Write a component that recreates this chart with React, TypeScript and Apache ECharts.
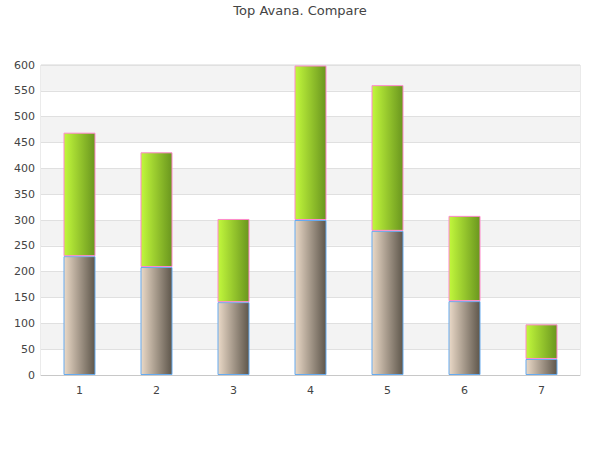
import React, { useEffect, useRef } from "react";
import * as echarts from "echarts";

const categories = ["1", "2", "3", "4", "5", "6", "7"];
const baseValues = [230, 209, 141, 300, 279, 143, 31];
const topValues = [239, 222, 161, 299, 282, 165, 67];
const titleText = "Top Avana. Compare";

export default function App() {
  const ref = useRef<HTMLDivElement>(null);
  useEffect(() => {
    const chart = echarts.init(ref.current!, null, { renderer: "svg" });
    const font = "DejaVu Sans";
    chart.setOption({
      animation: false,
      textStyle: { fontFamily: font },
      title: {
        text: titleText,
        left: "center",
        top: 0,
        padding: [4, 5],
        textStyle: { fontFamily: font, fontSize: 13, fontWeight: "normal", color: "#444" },
      },
      grid: { left: 41, right: 20, top: 65, bottom: 75, show: true, borderColor: "#d6d6d6", borderWidth: 1, backgroundColor: "transparent" },
      xAxis: {
        type: "category",
        data: categories,
        axisLine: { show: true, lineStyle: { color: "#c8c8c8" } },
        axisTick: { show: false },
        axisLabel: { color: "#444", fontSize: 11, fontFamily: font, margin: 10 },
      },
      yAxis: {
        type: "value",
        min: 0,
        max: 600,
        interval: 50,
        axisLine: { show: false },
        axisTick: { show: false },
        axisLabel: { color: "#444", fontSize: 11, fontFamily: font, margin: 6 },
        splitLine: { show: true, lineStyle: { color: "#e0e0e0" } },
        splitArea: { show: true, areaStyle: { color: ["#ffffff", "#f3f3f3"] } },
      },
      series: [
        {
          type: "bar",
          stack: "a",
          data: baseValues,
          barWidth: 32,
          itemStyle: {
            color: new echarts.graphic.LinearGradient(0, 0, 1, 0, [
              { offset: 0, color: "#ead9c7" },
              { offset: 1, color: "#5e564b" },
            ]),
            borderColor: "#66aaee",
            borderWidth: 1,
          },
        },
        {
          type: "bar",
          stack: "a",
          data: topValues,
          barWidth: 32,
          itemStyle: {
            color: new echarts.graphic.LinearGradient(0, 0, 1, 0, [
              { offset: 0, color: "#c2f83c" },
              { offset: 1, color: "#6a961e" },
            ]),
            borderColor: "#ff88cc",
            borderWidth: 1,
          },
        },
      ],
    });
    return () => chart.dispose();
  }, []);
  return <div ref={ref} style={{ position: "absolute", left: 0, top: 0, width: 600, height: 450 }} />;
}
